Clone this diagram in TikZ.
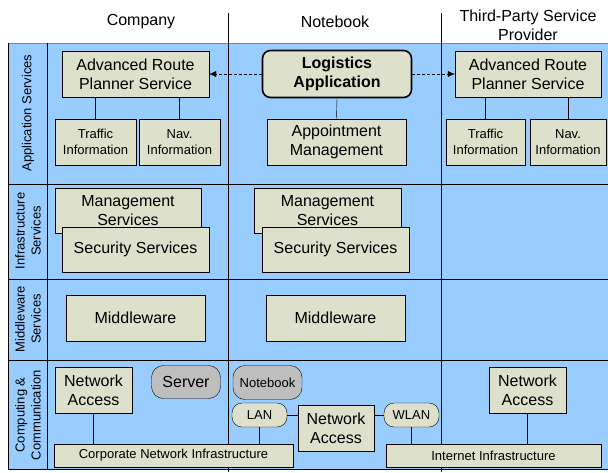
\documentclass[tikz,border=0pt]{standalone}
\usepackage{fontspec}
\setmainfont{Liberation Sans}
\usetikzlibrary{arrows.meta}

\definecolor{laneblue}{RGB}{153,204,255}
\definecolor{boxfill}{RGB}{221,224,203}
\definecolor{devgrey}{RGB}{190,190,190}

\newcommand{\bigfont}{\fontsize{16}{19}\selectfont}
\newcommand{\smallfont}{\fontsize{13}{16}\selectfont}

\begin{document}
\begin{tikzpicture}[x=1pt,y=-1pt,
	box/.style={draw, fill=boxfill, inner sep=0pt, align=center, font=\bigfont},
	smallbox/.style={box, font=\smallfont},
	pill/.style={box, fill=devgrey, rounded corners=12pt},
	linkpill/.style={box, font=\smallfont, rounded corners=10pt},
	lane/.style={rotate=90, align=center, font=\smallfont},
	head/.style={align=center, font=\bigfont},
	call/.style={dash pattern=on 3pt off 2pt, -{Latex[length=7pt,width=6pt]}}]
	
	\useasboundingbox (0,0) rectangle (608,472);
	
	% Background and grid
	\fill[laneblue] (8,43) rectangle (608,469);
	\draw[gray] (8,43) -- (608,43);
	\draw (8,43) -- (8,469) -- (608,469);
	\draw (47,43) -- (47,469);
	\draw (228,13) -- (228,472);
	\draw (441,13) -- (441,472);
	\foreach \y in {184,279,360}
		\draw (8,\y) -- (608,\y);
	
	% Column headers
	\node[head] (hcomp) at (141,22) {Company};
	\node[head] (hnote) at (335,22) {Notebook};
	\node[head] (hthird) at (528,25) {Third-Party Service\\Provider};
	
	% Row labels
	\node[lane] (lapp) at (28,113) {Application Services};
	\node[lane] (linf) at (28,231) {Infrastructure\\Services};
	\node[lane] (lmid) at (28,319) {Middleware\\Services};
	\node[lane] (lcom) at (28,415) {Computing \&\\Communication};
	
	% Application services
	\node[box, minimum width=147pt, minimum height=46pt] (carps) at (135.5,74) {Advanced Route\\Planner Service};
	\node[smallbox, minimum width=81pt, minimum height=46pt] (ctraf) at (95.5,142) {Traffic\\Information};
	\node[smallbox, minimum width=81pt, minimum height=46pt] (cnav) at (179.5,142) {Nav.\\Information};
	\node[box, minimum width=149pt, minimum height=47pt, rounded corners=8pt, line width=1.6pt, font=\bigfont\bfseries] (logi) at (337,74) {Logistics\\Application};
	\node[box, minimum width=139pt, minimum height=46pt] (appt) at (336.5,142) {Appointment\\Management};
	\node[box, minimum width=146pt, minimum height=46pt] (tarps) at (528,74) {Advanced Route\\Planner Service};
	\node[smallbox, minimum width=79pt, minimum height=46pt] (ttraf) at (485.5,142) {Traffic\\Information};
	\node[smallbox, minimum width=76pt, minimum height=46pt] (tnav) at (568,142) {Nav.\\Information};
	
	\draw (ctraf.north) -- (ctraf.north |- carps.south);
	\draw (cnav.north) -- (cnav.north |- carps.south);
	\draw (ttraf.north) -- (ttraf.north |- tarps.south);
	\draw (tnav.north) -- (tnav.north |- tarps.south);
	\draw (logi.south) -- (appt.north);
	\draw[call] (logi.west) -- (carps.east);
	\draw[call] (logi.east) -- (tarps.west);
	
	% Infrastructure services
	\node[box, minimum width=146pt, minimum height=45pt] (cmgmt) at (128,210.5) {Management\\Services};
	\node[box, minimum width=147pt, minimum height=45pt] (csec) at (135.5,249.5) {Security Services};
	\node[box, minimum width=147pt, minimum height=45pt] (nmgmt) at (327.5,210.5) {Management\\Services};
	\node[box, minimum width=147pt, minimum height=45pt] (nsec) at (335.5,249.5) {Security Services};
	
	% Middleware services
	\node[box, minimum width=139pt, minimum height=46pt] (cmid) at (135.5,318) {Middleware};
	\node[box, minimum width=139pt, minimum height=46pt] (nmid) at (335.5,318) {Middleware};
	
	% Computing and communication
	\node[box, minimum width=77pt, minimum height=46pt] (cna) at (93.5,390) {Network\\Access};
	\node[pill, minimum width=69pt, minimum height=33pt] (serv) at (186,382) {Server};
	\node[pill, minimum width=69pt, minimum height=34pt, font=\smallfont] (nbook) at (267.5,382.5) {Notebook};
	\node[linkpill, minimum width=55pt, minimum height=24pt] (lan) at (259.5,415) {LAN};
	\node[box, minimum width=76pt, minimum height=46pt] (nna) at (336,428) {Network\\Access};
	\node[linkpill, minimum width=55pt, minimum height=24pt] (wlan) at (411.5,415) {WLAN};
	\node[box, minimum width=77pt, minimum height=46pt] (tna) at (527.5,390) {Network\\Access};
	\node[smallbox, minimum width=239pt, minimum height=23pt] (cni) at (173.5,455.5) {Corporate Network Infrastructure};
	\node[smallbox, minimum width=215pt, minimum height=23pt] (inet) at (493.5,455.5) {Internet Infrastructure};
	
	\draw (cna.south) -- (cna.south |- cni.north);
	\draw (lan.east) -- (lan.east -| nna.west);
	\draw (wlan.west) -- (wlan.west -| nna.east);
	\draw (lan.south) -- (lan.south |- cni.north);
	\draw (wlan.south) -- (wlan.south |- inet.north);
	\draw (tna.south) -- (tna.south |- inet.north);
	
\end{tikzpicture}
\end{document}
